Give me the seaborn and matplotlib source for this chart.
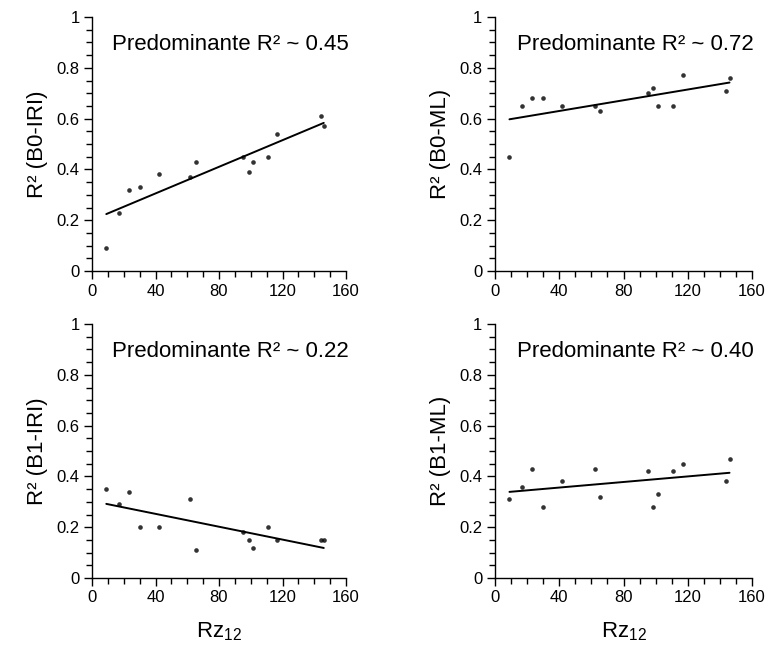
import matplotlib
matplotlib.use("Agg")
import matplotlib.pyplot as plt
import seaborn as sns
import pandas as pd
from matplotlib.ticker import MultipleLocator

# Data
rz12 = [9, 17, 23, 30, 42, 62, 65.5, 95.3, 98.6, 101.6, 111, 116.8, 144, 146]
r2_b0_iri = [0.09, 0.23, 0.32, 0.33, 0.38, 0.37, 0.43, 0.45, 0.39, 0.43, 0.45, 0.54, 0.61, 0.57]
r2_b0_ml = [0.45, 0.65, 0.68, 0.68, 0.65, 0.65, 0.63, 0.70, 0.72, 0.65, 0.65, 0.77, 0.71, 0.76]
r2_b1_iri = [0.35, 0.29, 0.34, 0.20, 0.20, 0.31, 0.11, 0.18, 0.15, 0.12, 0.20, 0.15, 0.15, 0.15]
r2_b1_ml = [0.31, 0.36, 0.43, 0.28, 0.38, 0.43, 0.32, 0.42, 0.28, 0.33, 0.42, 0.45, 0.38, 0.47]

panel_ylabels = ["R² (B0-IRI)", "R² (B0-ML)", "R² (B1-IRI)", "R² (B1-ML)"]
panel_titles = ["Predominante R² ~ 0.45", "Predominante R² ~ 0.72",
                "Predominante R² ~ 0.22", "Predominante R² ~ 0.40"]
x_label = "Rz$_{12}$"
x_ticks = [0, 40, 80, 120, 160]
y_ticks = [0, 0.2, 0.4, 0.6, 0.8, 1]
y_ticklabels = ["0", "0.2", "0.4", "0.6", "0.8", "1"]

series = [r2_b0_iri, r2_b0_ml, r2_b1_iri, r2_b1_ml]

sns.set_style("ticks")
plt.rcParams["font.family"] = ["Liberation Sans", "DejaVu Sans"]
plt.rcParams["mathtext.fontset"] = "custom"
plt.rcParams["mathtext.rm"] = "Liberation Sans"
plt.rcParams["mathtext.default"] = "regular"
for k in ["text.color", "axes.labelcolor", "xtick.color", "ytick.color", "axes.edgecolor"]:
    plt.rcParams[k] = "black"

W, H = 768, 655
fig = plt.figure(figsize=(W / 100, H / 100), dpi=100)

# axes pixel boxes: (left, top, right, bottom)
boxes = [(92, 17, 346, 271), (495, 17, 752, 271),
         (92, 324, 346, 578), (495, 324, 752, 578)]

for i, (box, yvals) in enumerate(zip(boxes, series)):
    l, t, r, b = box
    ax = fig.add_axes([l / W, 1 - b / H, (r - l) / W, (b - t) / H])
    df = pd.DataFrame({"x": rz12, "y": yvals})
    sns.regplot(data=df, x="x", y="y", ax=ax, ci=None, color="black",
                scatter_kws={"s": 11, "linewidths": 0},
                line_kws={"linewidth": 1.4})
    ax.set_xlim(0, 160)
    ax.set_ylim(0, 1)
    ax.set_xticks(x_ticks)
    ax.set_xticklabels([str(v) for v in x_ticks])
    ax.set_yticks(y_ticks)
    ax.set_yticklabels(y_ticklabels)
    ax.xaxis.set_minor_locator(MultipleLocator(10))
    ax.yaxis.set_minor_locator(MultipleLocator(0.05))
    ax.tick_params(which="major", length=6, width=1, direction="out", labelsize=12,
                   color="black", labelcolor="black", pad=3)
    ax.tick_params(which="minor", length=4, width=1, direction="out", color="black")
    for s in ["top", "right"]:
        ax.spines[s].set_visible(False)
    for s in ["left", "bottom"]:
        ax.spines[s].set_color("black")
        ax.spines[s].set_linewidth(1)
    ax.set_ylabel(panel_ylabels[i], fontsize=16, labelpad=6)
    if i >= 2:
        ax.set_xlabel(x_label, fontsize=16, labelpad=11)
    else:
        ax.set_xlabel("")
    ax.text(0.545, 0.89, panel_titles[i], transform=ax.transAxes,
            ha="center", va="center", fontsize=16)

fig.savefig("out.png", dpi=100)
